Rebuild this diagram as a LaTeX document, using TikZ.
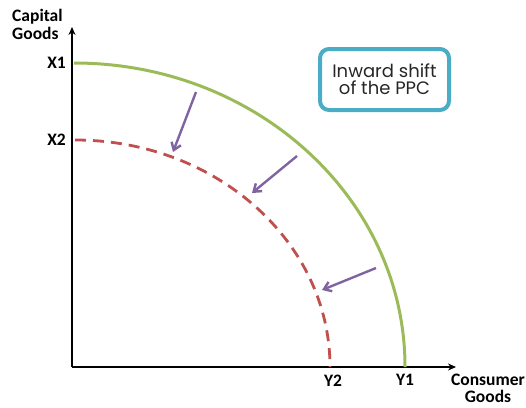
\documentclass[tikz,border=0pt]{standalone}
\usepackage{fontspec}
\setmainfont{Carlito}
\newfontfamily\boxfont{Poppins}
\usetikzlibrary{arrows.meta}
\definecolor{ppcgreen}{RGB}{155,187,89}
\definecolor{ppcred}{RGB}{192,80,77}
\definecolor{shiftpurple}{RGB}{128,100,162}
\definecolor{boxteal}{RGB}{75,172,198}
\tikzset{
  axis/.style={line width=1.8pt,-{Stealth[length=8pt,width=7pt]}},
  lbl/.style={font=\fontsize{17.5}{18}\selectfont\bfseries,inner sep=0pt},
  oldppc/.style={ppcgreen,line width=3pt},
  newppc/.style={ppcred,line width=2.8pt,dash pattern=on 11pt off 7pt},
  shiftarrow/.style={shiftpurple,line width=2.4pt,-{Straight Barb[length=7pt,width=10pt]}},
  notebox/.style={draw=boxteal,line width=4pt,rounded corners=9pt,minimum width=129pt,minimum height=61pt,align=center,font=\boxfont\fontsize{18}{17}\selectfont,text=black!85}
}
\begin{document}
\begin{tikzpicture}[x=1pt,y=-1pt]
\useasboundingbox (0,0) rectangle (526,407);
\coordinate (O) at (72,367);
\coordinate (ytop) at (72,27);
\coordinate (xend) at (456,367);
\draw[axis] (O) -- (ytop);
\draw[axis] (O) -- (xend);
% curves
\draw[oldppc] (74,63) arc[start angle=90,end angle=0,x radius=331pt,y radius=304pt];
\draw[newppc] (75,140) arc[start angle=90,end angle=0,x radius=255pt,y radius=227pt];
% arrows
\coordinate (a1s) at (196,92); \coordinate (a1e) at (173,152);
\coordinate (a2s) at (297,156); \coordinate (a2e) at (252,193);
\coordinate (a3s) at (376,268); \coordinate (a3e) at (322,290);
\draw[shiftarrow] (a1s) -- (a1e);
\draw[shiftarrow] (a2s) -- (a2e);
\draw[shiftarrow] (a3s) -- (a3e);
% labels
\node[lbl,anchor=north west,align=left] (cap) at (12,9) {Capital\\Goods};
\node[lbl,anchor=east] (x1) at (66,63) {X1};
\node[lbl,anchor=east] (x2) at (66,140) {X2};
\node[lbl] (y2) at (333,381) {Y2};
\node[lbl] (y1) at (405,380) {Y1};
\node[lbl,align=center,font=\fontsize{17.5}{16.5}\selectfont\bfseries] (cons) at (488,388.5) {Consumer\\Goods};
\node[notebox] (note) at (384.5,79.5) {Inward shift\\of the PPC};
\end{tikzpicture}
\end{document}
